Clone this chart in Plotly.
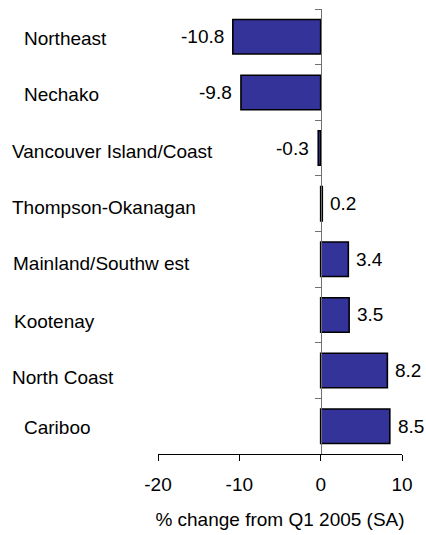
import plotly.graph_objects as go

regions = ["Northeast", "Nechako", "Vancouver Island/Coast", "Thompson-Okanagan",
           "Mainland/Southw est", "Kootenay", "North Coast", "Cariboo"]
values = [-10.8, -9.8, -0.3, 0.2, 3.4, 3.5, 8.2, 8.5]
value_labels = ["-10.8", "-9.8", "-0.3", "0.2", "3.4", "3.5", "8.2", "8.5"]
x_ticks = [-20, -10, 0, 10]
x_title = "% change from Q1 2005 (SA)"

# styling: left edge (px in page) and vertical nudge of each category label
label_left_px = [22, 22, 10, 10, 11, 12, 10, 22]
label_yshift = [-2, -2, -3, -4, -4, -7, -7, -1]

W, H = 426, 535
ML, MR, MT, MB = 158, 24, 9, 78
FONT = "Liberation Sans, Arial, sans-serif"
FS = 19

fig = go.Figure()
fig.add_trace(go.Bar(
    y=regions, x=values, orientation="h",
    marker=dict(color="#333399", line=dict(color="black", width=1.6)),
    width=0.62, showlegend=False, hoverinfo="skip",
))

ann = []
for r, v, t in zip(regions, values, value_labels):
    ann.append(dict(x=v, y=r, xref="x", yref="y", text=t, showarrow=False,
                    xanchor="right" if v < 0 else "left",
                    xshift=-7 if v < 0 else 6,
                    font=dict(family=FONT, size=FS, color="black")))
for r, lx, ys in zip(regions, label_left_px, label_yshift):
    ann.append(dict(x=0, y=r, xref="paper", yref="y", text=r, showarrow=False,
                    xanchor="left", xshift=lx - ML, yshift=ys,
                    font=dict(family=FONT, size=FS, color="black")))

fig.update_layout(
    width=W, height=H,
    margin=dict(l=ML, r=MR, t=MT, b=MB, pad=0),
    paper_bgcolor="white", plot_bgcolor="white",
    font=dict(family=FONT, size=FS, color="black"),
    annotations=ann,
    xaxis=dict(range=[-20, 10], tickvals=x_ticks, ticktext=[str(t) for t in x_ticks],
               showgrid=False, zeroline=False, showline=True, linecolor="black",
               linewidth=1, ticks="outside", ticklen=6, tickcolor="black",
               ticklabelstandoff=7,
               title=dict(text=x_title, font=dict(family=FONT, size=FS), standoff=18),
               tickfont=dict(family=FONT, size=FS), fixedrange=True),
    yaxis=dict(categoryorder="array", categoryarray=regions, autorange="reversed",
               showticklabels=False, showgrid=False, zeroline=False,
               showline=True, linecolor="#707070", linewidth=1,
               ticks="outside", ticklen=6, tickcolor="#707070", tickson="boundaries",
               anchor="free", position=2 / 3, fixedrange=True),
)

fig.write_html(
    "out.html",
    config={"displayModeBar": False, "staticPlot": True},
    post_script="document.body.style.margin='0';document.body.style.overflow='hidden';",
)
